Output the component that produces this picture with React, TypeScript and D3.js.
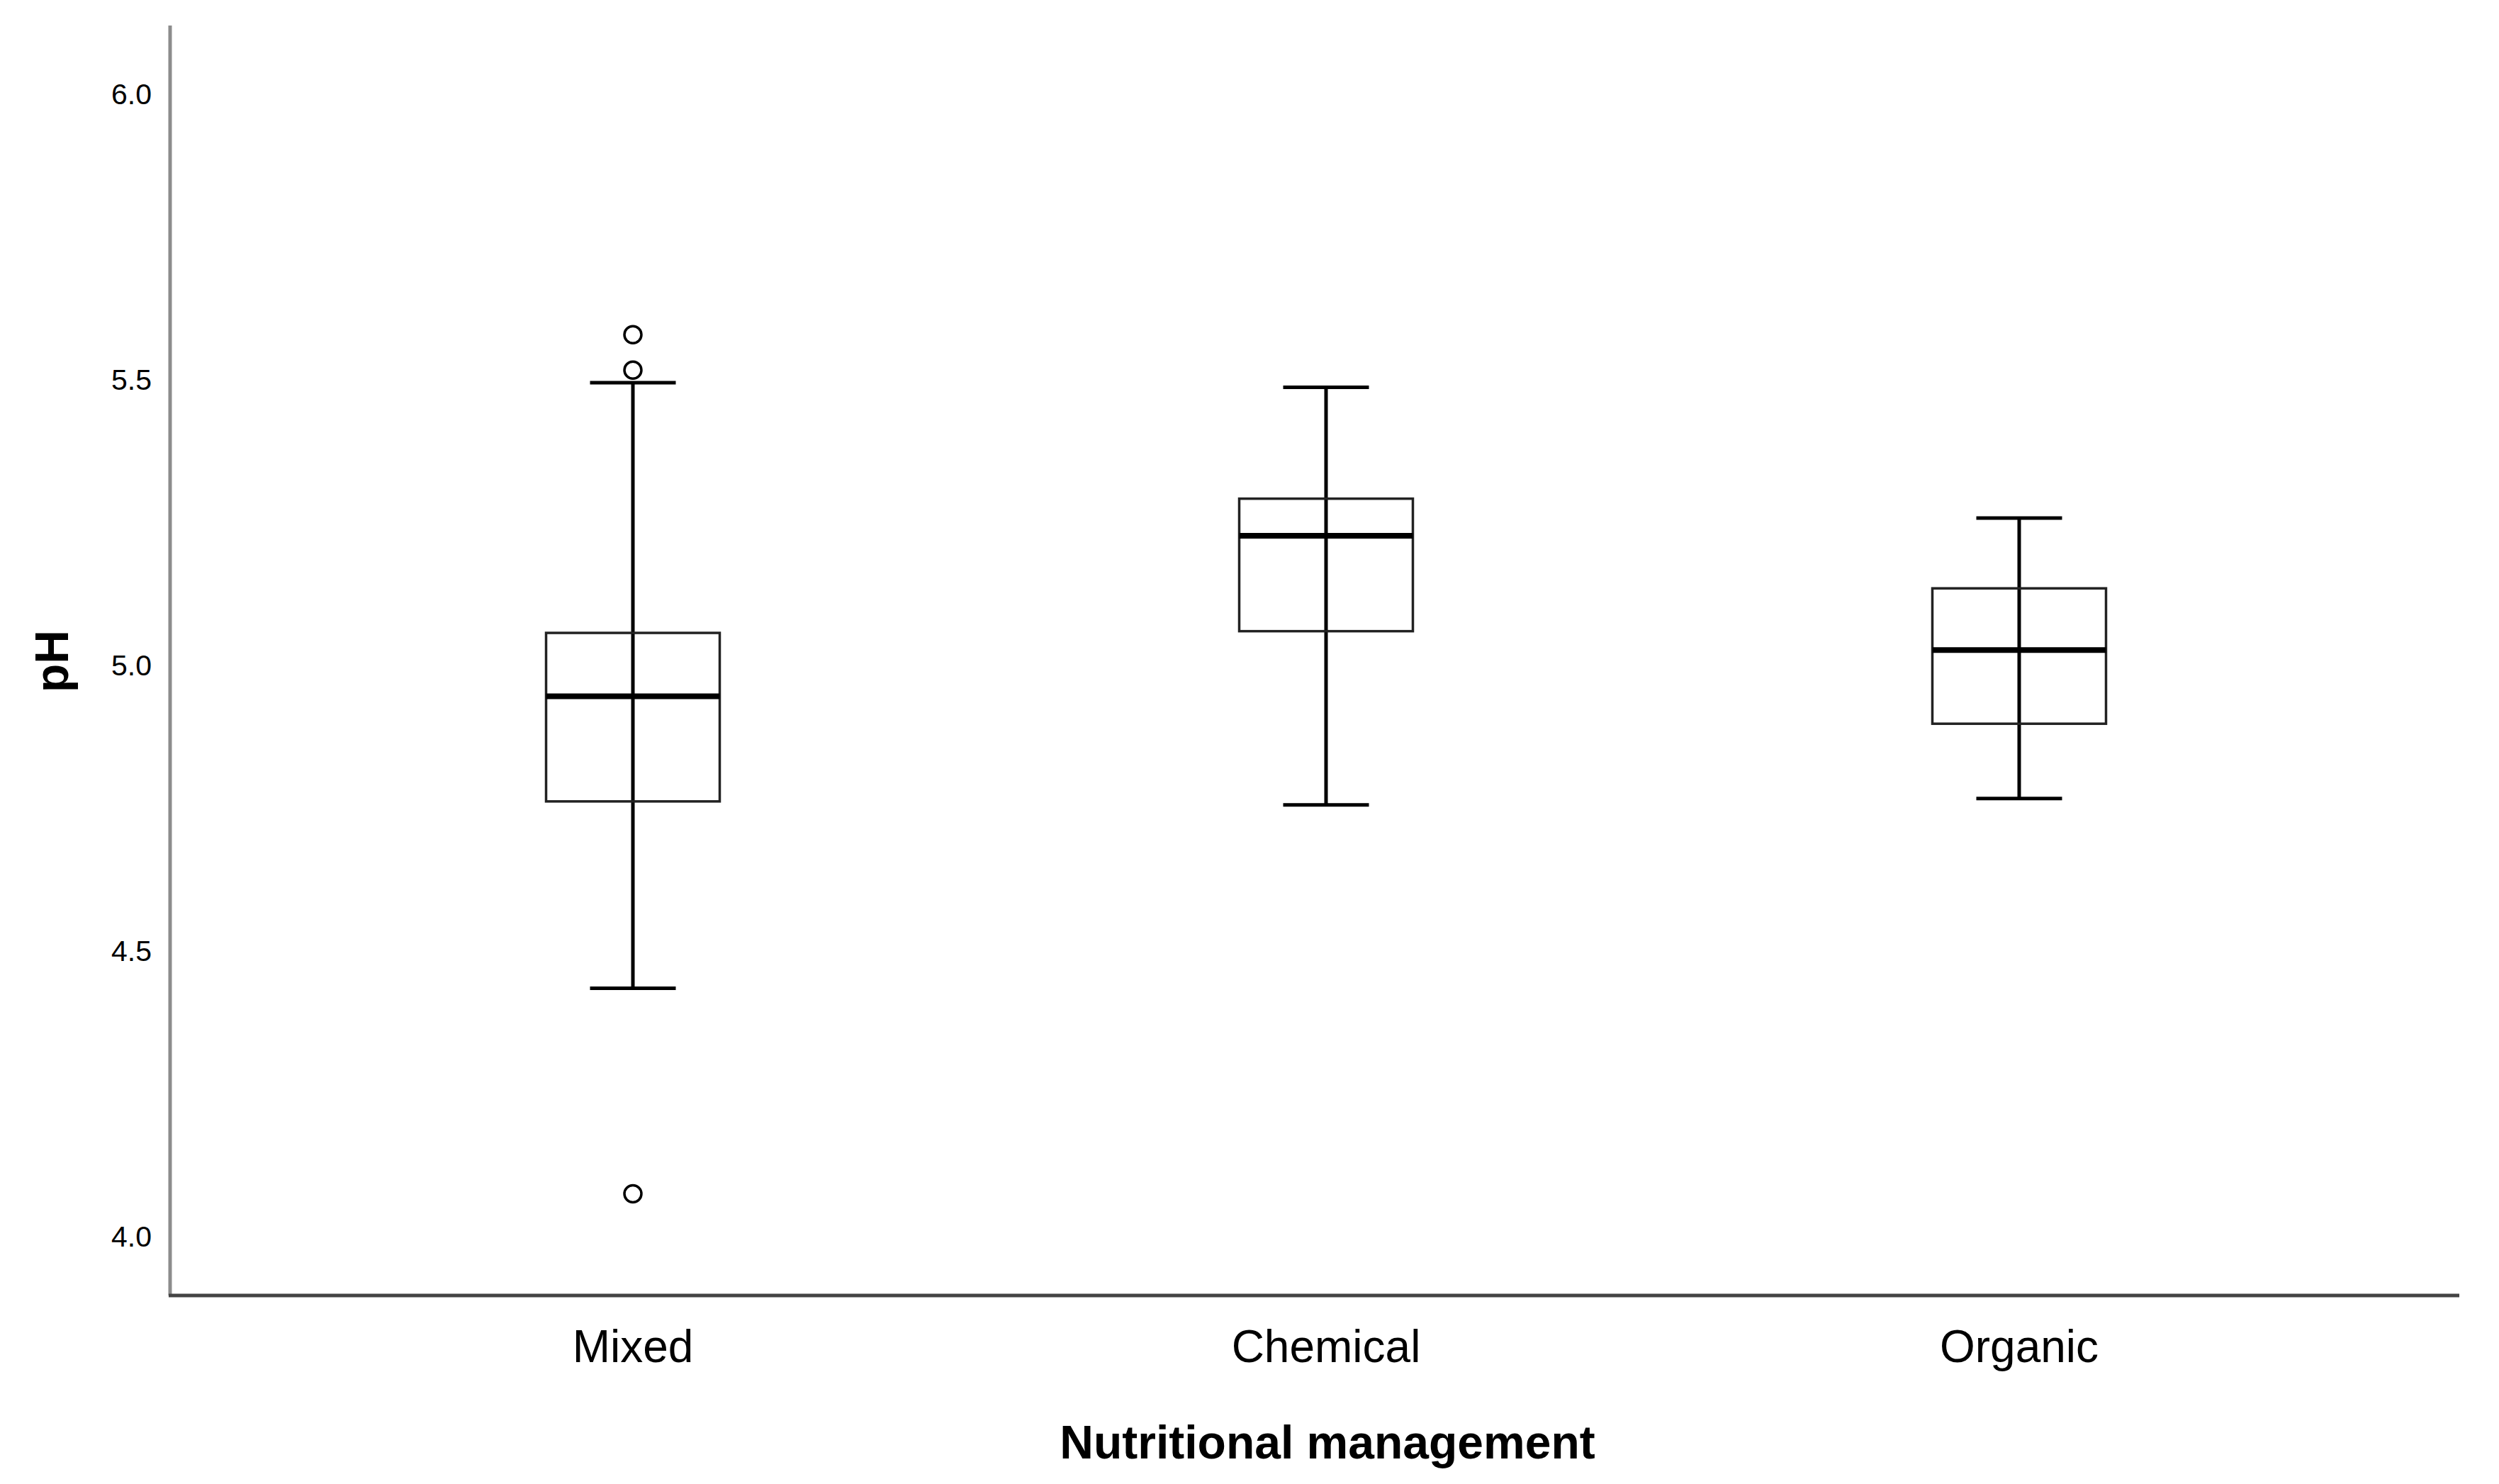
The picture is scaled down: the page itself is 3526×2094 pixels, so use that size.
import * as d3 from 'd3';

// Categories and box statistics
const categories = ['Mixed', 'Chemical', 'Organic'];
const lowerWhisker = [4.435, 4.756, 4.767];
const q1 = [4.762, 5.06, 4.898];
const median = [4.946, 5.227, 5.027];
const q3 = [5.057, 5.292, 5.135];
const upperWhisker = [5.495, 5.487, 5.258];
const outliers = [
  { category: 'Mixed', value: 5.579 },
  { category: 'Mixed', value: 5.517 },
  { category: 'Mixed', value: 4.075 },
];
const yTicks = [4.0, 4.5, 5.0, 5.5, 6.0];

const W = 3526;
const H = 2094;
const axisX = 240;
const axisTop = 36;
const axisBottom = 1828;
const axisRight = 3470;
const boxWidth = 245;
const capWidth = 121;
const FONT = '"Liberation Sans", Arial, sans-serif';

export default function App() {
  const x = d3.scalePoint<string>().domain(categories).range([893, 2849]);
  const y = d3.scaleLinear().domain([4, 6]).range([1745, 133]);

  return (
    <svg
      width={W}
      height={H}
      style={{ position: 'absolute', left: 0, top: 0, background: '#fff' }}
    >
      <rect width={W} height={H} fill="#fff" />

      {/* axes frame */}
      <line x1={axisX} x2={axisX} y1={axisTop} y2={axisBottom} stroke="#8c8c8c" strokeWidth={5} />
      <line x1={axisX - 2} x2={axisRight} y1={axisBottom} y2={axisBottom} stroke="#444" strokeWidth={5} />

      {/* y tick labels */}
      {yTicks.map((t) => (
        <text
          key={t}
          x={214}
          y={y(t)}
          textAnchor="end"
          dominantBaseline="central"
          fontFamily={FONT}
          fontSize={41}
          fill="#000"
        >
          {d3.format('.1f')(t)}
        </text>
      ))}

      {/* boxes */}
      {categories.map((c, i) => {
        const cx = x(c) as number;
        return (
          <g key={c}>
            <line x1={cx} x2={cx} y1={y(upperWhisker[i])} y2={y(lowerWhisker[i])} stroke="#000" strokeWidth={5} />
            <rect
              x={cx - boxWidth / 2}
              y={y(q3[i])}
              width={boxWidth}
              height={y(q1[i]) - y(q3[i])}
              fill="none"
              stroke="#222"
              strokeWidth={3.5}
            />
            <line x1={cx - boxWidth / 2} x2={cx + boxWidth / 2} y1={y(median[i])} y2={y(median[i])} stroke="#000" strokeWidth={8} />
            <line x1={cx - capWidth / 2} x2={cx + capWidth / 2} y1={y(upperWhisker[i])} y2={y(upperWhisker[i])} stroke="#000" strokeWidth={5} />
            <line x1={cx - capWidth / 2} x2={cx + capWidth / 2} y1={y(lowerWhisker[i])} y2={y(lowerWhisker[i])} stroke="#000" strokeWidth={5} />
          </g>
        );
      })}

      {/* outliers */}
      {outliers.map((o, i) => (
        <circle
          key={i}
          cx={x(o.category) as number}
          cy={y(o.value)}
          r={12}
          fill="none"
          stroke="#000"
          strokeWidth={3.5}
        />
      ))}

      {/* category labels */}
      {categories.map((c) => (
        <text
          key={c}
          x={x(c) as number}
          y={1922}
          textAnchor="middle"
          fontFamily={FONT}
          fontSize={64}
          fill="#000"
        >
          {c}
        </text>
      ))}

      {/* axis titles */}
      <text
        x={1873}
        y={2058}
        textAnchor="middle"
        fontFamily={FONT}
        fontSize={66}
        fontWeight="bold"
        fill="#000"
      >
        Nutritional management
      </text>
      <text
        transform={`translate(96, 933) rotate(-90)`}
        textAnchor="middle"
        fontFamily={FONT}
        fontSize={66}
        fontWeight="bold"
        fill="#000"
      >
        pH
      </text>
    </svg>
  );
}
